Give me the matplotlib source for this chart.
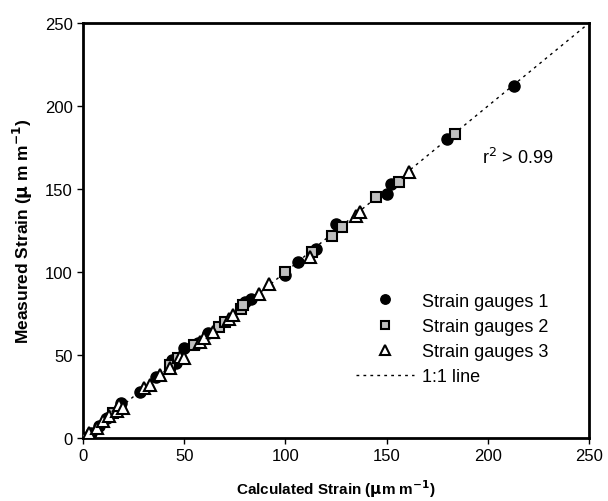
import matplotlib
matplotlib.use("Agg")
import matplotlib.pyplot as plt

plt.rcParams['font.family'] = ['Liberation Sans', 'DejaVu Sans']

# Strain gauges 1 (calculated, measured)
g1_x = [0, 4, 8, 12, 19, 28, 36, 44, 46, 50, 57, 62, 80, 83, 100, 106, 115, 125, 150, 152, 180, 213]
g1_y = [0, 3, 7, 12, 21, 28, 37, 47, 45, 54, 57, 63, 82, 84, 98, 106, 114, 129, 147, 153, 180, 212]

# Strain gauges 2
g2_x = [0, 15, 43, 47, 55, 67, 70, 78, 79, 100, 113, 123, 128, 145, 156, 184]
g2_y = [0, 15, 44, 48, 56, 67, 70, 78, 80, 100, 112, 122, 127, 145, 154, 183]

# Strain gauges 3
g3_x = [0, 3, 7, 10, 13, 17, 18, 20, 30, 33, 38, 43, 48, 50, 58, 60, 64, 72, 74, 87, 92, 112, 135, 137, 161]
g3_y = [0, 3, 6, 10, 13, 16, 20, 18, 30, 32, 38, 42, 49, 48, 58, 60, 64, 72, 74, 87, 93, 109, 134, 136, 160]

line_x = [0, 250]
line_y = [0, 250]

fig = plt.figure(figsize=(6.08, 5.02), dpi=100)
ax = fig.add_axes([0.1365, 0.1255, 0.8323, 0.8265])

ax.plot(line_x, line_y, color='black', lw=1, linestyle=(0, (2, 3)), label='1:1 line', zorder=1)
ax.plot(g1_x, g1_y, 'o', ms=8, mfc='black', mec='black', label='Strain gauges 1', zorder=3)
ax.plot(g2_x, g2_y, 's', ms=7.5, mfc='#bfbfbf', mec='black', mew=1.5, label='Strain gauges 2', zorder=3)
ax.plot(g3_x, g3_y, '^', ms=8, mfc='white', mec='black', mew=1.5, label='Strain gauges 3', zorder=3)

ax.set_xlim(0, 250)
ax.set_ylim(0, 250)
ax.set_xticks([0, 50, 100, 150, 200, 250])
ax.set_yticks([0, 50, 100, 150, 200, 250])
for s in ax.spines.values():
    s.set_linewidth(2)
ax.tick_params(direction='out', length=4, width=1, labelsize=12)

ax.set_xlabel(r'Calculated Strain ($\mathbf{\mu}$m m$^{\mathbf{-1}}$)', fontsize=11, fontweight='bold', labelpad=10)
ax.set_ylabel(r'Measured Strain ($\mathbf{\mu}$ m m$^{\mathbf{-1}}$)', fontsize=12.5, fontweight='bold', labelpad=7)

ax.text(197, 166, r'r$^2$ > 0.99', fontsize=13)

h, l = ax.get_legend_handles_labels()
order = [1, 2, 3, 0]
ax.legend([h[i] for i in order], [l[i] for i in order], loc='upper left',
          bbox_to_anchor=(0.54, 0.35), frameon=False, fontsize=13,
          borderpad=0, borderaxespad=0, handlelength=3.2, handletextpad=0.45,
          markerscale=0.85, labelspacing=0.45)

fig.savefig('out.png', dpi=100)
